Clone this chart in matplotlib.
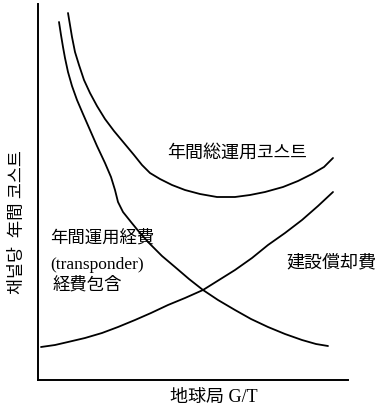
import matplotlib
matplotlib.use("Agg")
import matplotlib.pyplot as plt

# Data (arbitrary units: x = G/T, y = annual cost)
total_x = [30, 32, 34, 37, 41, 46, 52, 59, 67, 76, 86, 96, 104, 112, 122, 134,
           147, 162, 179, 197, 212, 227, 245, 260, 274, 286, 295]
total_y = [367, 355, 343, 328, 315, 300, 287, 274, 261, 249, 237, 225, 215, 207,
           201, 195, 190, 186, 183, 183, 185, 188, 193, 199, 206, 213, 222]

oper_x = [21, 23, 25, 27, 30, 34, 39, 45, 52, 59, 67, 73, 77, 80, 85, 93, 102,
          112, 124, 137, 151, 165, 180, 197, 213, 230, 247, 264, 278, 290]
oper_y = [358, 345, 333, 322, 308, 294, 280, 266, 250, 234, 217, 203, 190, 178,
          168, 158, 147, 136, 124, 113, 101, 90, 80, 70, 61, 53, 46, 40, 36, 34]

depr_x = [3, 17, 30, 47, 64, 80, 97, 113, 130, 147, 165, 181, 197, 214, 230,
          247, 264, 280, 295]
depr_y = [33, 35, 38, 42, 47, 53, 60, 67, 75, 82, 90, 100, 110, 122, 135, 147,
          160, 174, 188]

label_total = "年間総運用코스트"
label_depr = "建設償却費"
label_oper = ["年間運用経費", "(transponder)", "経費包含"]
xlabel = "地球局 G/T"
ylabel = "채널당  年間 코스트"

fam = ["Liberation Serif", "Noto Sans CJK JP", "DejaVu Sans"]
plt.rcParams["font.family"] = fam

fig = plt.figure(figsize=(3.83, 4.08), dpi=100)
ax = fig.add_axes([38/383, 28/408, 310/383, 376/408])
ax.set_xlim(0, 310)
ax.set_ylim(0, 376)
for s in ("top", "right"):
    ax.spines[s].set_visible(False)
for s in ("left", "bottom"):
    ax.spines[s].set_linewidth(1.4)
ax.set_xticks([])
ax.set_yticks([])

kw = dict(color="black", lw=1.3, solid_capstyle="round", solid_joinstyle="round")
ax.plot(total_x, total_y, **kw)
ax.plot(oper_x, oper_y, **kw)
ax.plot(depr_x, depr_y, **kw)

fs = 12.5
ax.text(199, 227, label_total, fontsize=13, ha="center", va="center")
ax.text(293, 117, label_depr, fontsize=13, ha="center", va="center", clip_on=False)
ax.text(12, 142, label_oper[0], fontsize=fs, ha="left", va="center")
ax.text(12, 115, label_oper[1], fontsize=12.5, ha="left", va="center")
ax.text(15, 95, label_oper[2], fontsize=fs, ha="left", va="center")

fig.text(214/383, 1 - 397/408, xlabel, fontsize=13, ha="center", va="center")
fig.text(18/383, 1 - 222/408, ylabel, fontsize=12.5, ha="center", va="center",
         rotation=90)

fig.savefig("out.png", dpi=100)
